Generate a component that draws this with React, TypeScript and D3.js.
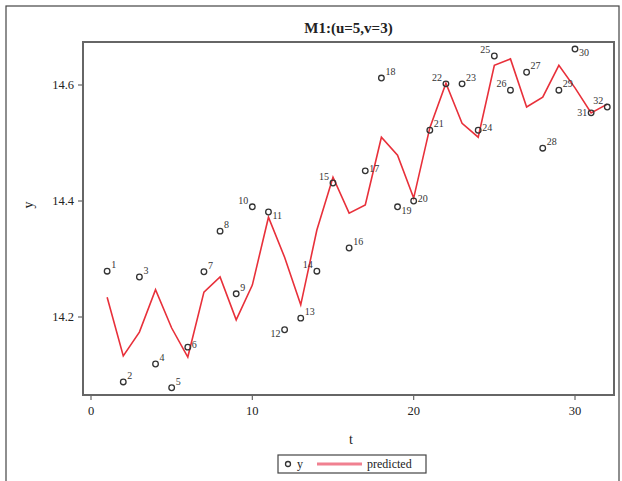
import React from "react";
import * as d3 from "d3";

const width = 622;
const height = 481;
const plot = { left: 83, right: 614, top: 42, bottom: 395 };

const t = d3.range(1, 33);
const observed = [
  14.279, 14.088, 14.269, 14.119, 14.078, 14.148, 14.278, 14.348, 14.24, 14.39,
  14.381, 14.178, 14.198, 14.279, 14.431, 14.319, 14.452, 14.612, 14.39, 14.4,
  14.522, 14.602, 14.602, 14.522, 14.65, 14.591, 14.622, 14.491, 14.591, 14.662,
  14.552, 14.562
];
const predicted = [
  14.234, 14.133, 14.174, 14.247, 14.181, 14.131, 14.243, 14.269, 14.195, 14.255,
  14.372, 14.303, 14.221, 14.35, 14.441, 14.379, 14.393, 14.51, 14.479, 14.405,
  14.526, 14.603, 14.534, 14.51, 14.634, 14.645, 14.562, 14.579, 14.634, 14.595,
  14.552, 14.567
];
// where each point label sits relative to its marker
const labelPos = [
  "ur", "ur", "ur", "ur", "ur", "r", "ur", "ur", "ur", "ul",
  "lr", "ll", "ur", "ul", "ul", "ur", "r", "ur", "lr", "r",
  "ur", "ul", "ur", "r", "ul", "ul", "ur", "ur", "ur", "lr",
  "l", "ul"
];
const xTicks = [0, 10, 20, 30];
const yTicks = [14.2, 14.4, 14.6];

const xScale = d3.scaleLinear().domain([0, 30]).range([91, 575]);
const yScale = d3.scaleLinear().domain([14.2, 14.6]).range([317, 85]);

const axisColor = "#666";
const serif = "'Liberation Serif', 'DejaVu Serif', serif";

const offsets: Record<string, [number, number, string]> = {
  ur: [4, -3, "start"],
  r: [4, 1, "start"],
  lr: [4, 7, "start"],
  ul: [-4, -3, "end"],
  l: [-4, 3, "end"],
  ll: [-4, 7, "end"]
};

export default function App() {
  const line = d3
    .line<number>()
    .x((d, i) => xScale(t[i]))
    .y(d => yScale(d));

  return (
    <div style={{ position: "fixed", left: 0, top: 0 }}>
      <svg width={width} height={height} style={{ display: "block", fontFamily: serif }}>
        <rect x={0} y={0} width={width} height={height} fill="#fff" />
        <rect x={6} y={6} width={613} height={480} fill="none" stroke="#444" strokeWidth={1.2} />
        <text x={(plot.left + plot.right) / 2} y={33} textAnchor="middle" fontSize={15} fontWeight="bold" fill="#222">
          M1:(u=5,v=3)
        </text>
        <rect
          x={plot.left}
          y={plot.top}
          width={plot.right - plot.left}
          height={plot.bottom - plot.top}
          fill="none"
          stroke={axisColor}
          strokeWidth={2}
        />
        {yTicks.map(v => (
          <g key={v}>
            <line x1={plot.left - 5} x2={plot.left} y1={yScale(v)} y2={yScale(v)} stroke={axisColor} strokeWidth={1.2} />
            <text x={plot.left - 9} y={yScale(v) + 4} textAnchor="end" fontSize={12.5} fill="#222">
              {v.toFixed(1)}
            </text>
          </g>
        ))}
        {xTicks.map(v => (
          <g key={v}>
            <line x1={xScale(v)} x2={xScale(v)} y1={plot.bottom} y2={plot.bottom + 5} stroke={axisColor} strokeWidth={1.2} />
            <text x={xScale(v)} y={plot.bottom + 20} textAnchor="middle" fontSize={12.5} fill="#222">
              {v}
            </text>
          </g>
        ))}
        <text x={351} y={444} textAnchor="middle" fontSize={14} fill="#222">t</text>
        <text transform="translate(33,205) rotate(-90)" textAnchor="middle" fontSize={14} fill="#222">y</text>
        <path d={line(predicted) || ""} fill="none" stroke="#e8303a" strokeWidth={1.6} />
        {observed.map((v, i) => {
          const cx = xScale(t[i]);
          const cy = yScale(v);
          const [dx, dy, anchor] = offsets[labelPos[i]];
          return (
            <g key={i}>
              <circle cx={cx} cy={cy} r={2.8} fill="none" stroke="#333" strokeWidth={1.3} />
              <text x={cx + dx} y={cy + dy} textAnchor={anchor} fontSize={10} fill="#333">
                {t[i]}
              </text>
            </g>
          );
        })}
        <g>
          <rect x={278} y={455} width={148} height={18} fill="none" stroke="#444" strokeWidth={1.2} />
          <circle cx={288} cy={464} r={2.5} fill="none" stroke="#333" strokeWidth={1.3} />
          <text x={297} y={468} fontSize={12} fill="#222">y</text>
          <line x1={317} x2={362} y1={464} y2={464} stroke="#f08090" strokeWidth={3} />
          <text x={367} y={468} fontSize={12} fill="#222">predicted</text>
        </g>
      </svg>
    </div>
  );
}
